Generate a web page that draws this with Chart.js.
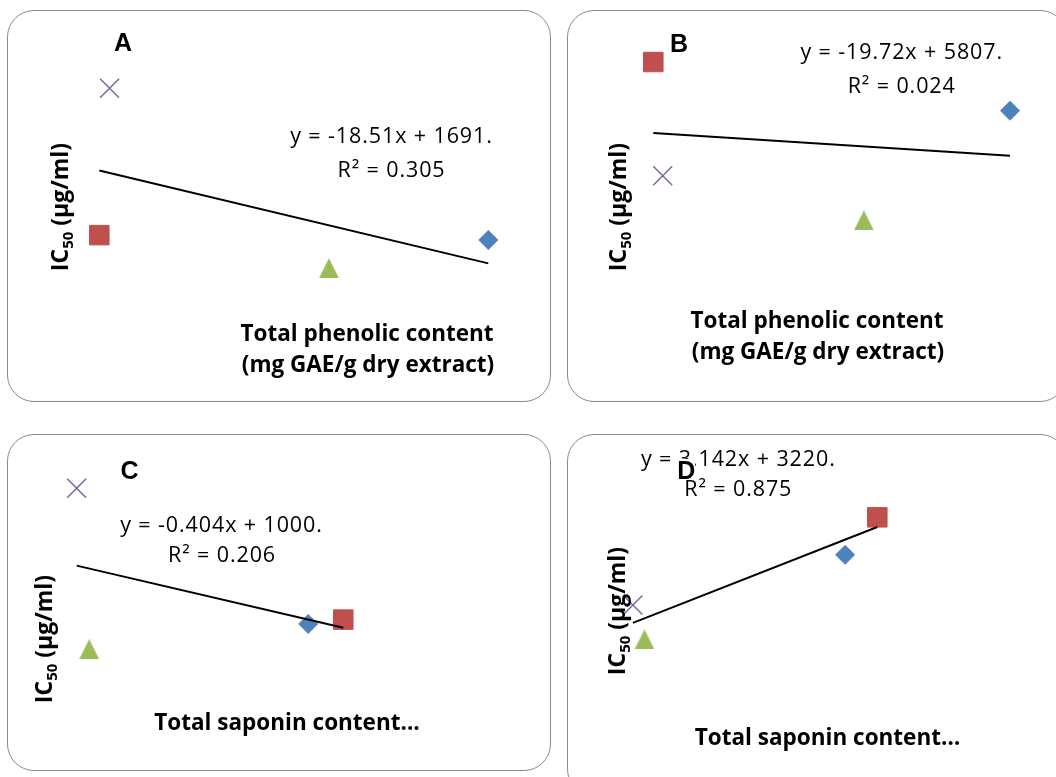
<!DOCTYPE html>
<html>
<head>
<meta charset="utf-8">
<script src="https://cdn.jsdelivr.net/npm/chart.js@4/dist/chart.umd.min.js"></script>
<style>
  html, body { margin:0; padding:0; background:#ffffff; width:1056px; height:777px; overflow:hidden; }
  .panel { position:absolute; box-sizing:border-box; border:1.5px solid #8a8a8a; border-radius:27px; background:#ffffff; }
  canvas { position:absolute; left:0; top:0; }
</style>
</head>
<body>
<div class="panel" style="left:7px;top:10px;width:544px;height:392px"></div>
<div class="panel" style="left:567px;top:10px;width:500px;height:392px"></div>
<div class="panel" style="left:7px;top:434px;width:544px;height:337px"></div>
<div class="panel" style="left:567px;top:434px;width:500px;height:362px"></div>
<canvas id="chartA" width="1056" height="777"></canvas>
<canvas id="chartB" width="1056" height="777"></canvas>
<canvas id="chartC" width="1056" height="777"></canvas>
<canvas id="chartD" width="1056" height="777"></canvas>
<script>
// ---------------- DATA ----------------
// four extracts, in Excel series order: diamond, square, triangle, cross
const seriesNames = ['Extract 1', 'Extract 2', 'Extract 3', 'Extract 4'];
const seriesColors = ['#4F81BD', '#C0504D', '#9BBB59', '#8064A2'];

// x values
const phenolicContent = [62.5, 39.8, 53.2, 40.4];      // mg GAE/g dry extract (panels A, B)
const saponinContent  = [836.4, 938.9, 197.2, 160.4];  // (panels C, D)

// y values: IC50 (µg/ml)
const ic50First  = [640, 662, 512, 1327];    // panels A and C
const ic50Second = [5460, 6418, 3300, 4181]; // panels B and D

// linear trend lines (end points)
const trendAx = [39.8, 62.5],   trendAy = [954.3, 534.1];
const trendBx = [39.8, 62.5],   trendBy = [5022.1, 4574.5];
const trendCx = [160.4, 938.9], trendCy = [935.2, 620.7];
const trendDx = [160.4, 938.9], trendDy = [3724.0, 6170.0];

// texts
const panelLetters = ['A', 'B', 'C', 'D'];
const equationLines = ['y = -18.51x + 1691.', 'y = -19.72x + 5807.', 'y = -0.404x + 1000.', 'y = 3.142x + 3220.'];
const r2Lines = ['R² = 0.305', 'R² = 0.024', 'R² = 0.206', 'R² = 0.875'];
const phenolicTitle = ['Total phenolic content', '(mg GAE/g dry extract)'];
const saponinTitle = ['Total saponin content…'];
const yTitleParts = ['IC', '50', ' (µg/ml)'];

// ---------------- helpers ----------------
function triangleMarker(color, w, h) {
  const c = document.createElement('canvas');
  c.width = w; c.height = h;
  const g = c.getContext('2d');
  g.fillStyle = color;
  g.beginPath();
  g.moveTo(w / 2, 0);
  g.lineTo(w, h);
  g.lineTo(0, h);
  g.closePath();
  g.fill();
  return c;
}
const markerStyles = [
  { pointStyle: 'rectRot',  pointRadius: 9.5,  borderWidth: 1 },
  { pointStyle: 'rect',     pointRadius: 13.8, borderWidth: 1 },
  { pointStyle: triangleMarker(seriesColors[2], 20, 20), pointRadius: 10, borderWidth: 0 },
  { pointStyle: 'crossRot', pointRadius: 13.4, borderWidth: 1.5 }
];

const textPlugin = {
  id: 'panelText',
  afterDatasetsDraw(chart, args, opts) {
    const ctx = chart.ctx;
    (opts.items || []).forEach(it => {
      ctx.save();
      ctx.fillStyle = '#000';
      ctx.textBaseline = 'alphabetic';
      if (it.parts) {
        // rotated rich text (y-axis title with subscript)
        ctx.translate(it.x, it.y);
        ctx.rotate(-Math.PI / 2);
        let total = 0;
        const widths = it.parts.map(p => { ctx.font = p.font; const w = ctx.measureText(p.text).width; total += w; return w; });
        let cx = -total / 2;
        ctx.textAlign = 'left';
        it.parts.forEach((p, i) => {
          ctx.font = p.font;
          ctx.fillText(p.text, cx, p.dy || 0);
          cx += widths[i];
        });
      } else {
        ctx.font = it.font;
        ctx.textAlign = it.align || 'center';
        if ('letterSpacing' in ctx) ctx.letterSpacing = it.spacing || '0px';
        if (it.bg) {
          const m = ctx.measureText(it.text);
          ctx.fillStyle = it.bg;
          ctx.fillRect(it.x - m.actualBoundingBoxLeft - 1, it.y - m.actualBoundingBoxAscent - 2,
                       m.actualBoundingBoxLeft + m.actualBoundingBoxRight + 2,
                       m.actualBoundingBoxAscent + m.actualBoundingBoxDescent + 3);
          ctx.fillStyle = '#000';
        }
        ctx.fillText(it.text, it.x, it.y);
      }
      ctx.restore();
    });
  }
};

const EQ_FONT = '21.5px "Open Sans"';
const EQ_SPACING = '0.9px';
const TITLE_FONT = 'bold 22.5px "Open Sans"';
const LETTER_FONT = 'bold 25px "Liberation Sans", Arial';
function yTitle(x, y) {
  return {
    x: x, y: y,
    parts: [
      { text: yTitleParts[0], font: 'bold 23px "Open Sans"' },
      { text: yTitleParts[1], font: 'bold 15px "Open Sans"', dy: 5 },
      { text: yTitleParts[2], font: 'bold 23px "Open Sans"' }
    ]
  };
}

function makeChart(id, xs, ys, tx, ty, xr, yr, pad, items) {
  const datasets = [{
    label: 'Linear trend',
    data: tx.map((x, i) => ({ x: x, y: ty[i] })),
    showLine: true,
    borderColor: '#000000',
    borderWidth: 2,
    pointRadius: 0,
    fill: false,
    clip: false
  }];
  seriesNames.forEach((name, i) => {
    datasets.push({
      label: name,
      data: [{ x: xs[i], y: ys[i] }],
      backgroundColor: seriesColors[i],
      borderColor: seriesColors[i],
      pointStyle: markerStyles[i].pointStyle,
      pointRadius: markerStyles[i].pointRadius,
      pointBorderWidth: markerStyles[i].borderWidth,
      clip: false
    });
  });
  return new Chart(document.getElementById(id), {
    type: 'scatter',
    data: { datasets: datasets },
    options: {
      responsive: false,
      animation: false,
      devicePixelRatio: 1,
      layout: { padding: pad, autoPadding: false },
      scales: {
        x: { type: 'linear', min: xr[0], max: xr[1], display: false },
        y: { type: 'linear', min: yr[0], max: yr[1], display: false }
      },
      plugins: {
        legend: { display: false },
        title: { display: false },
        tooltip: { enabled: false },
        panelText: { items: items }
      }
    },
    plugins: [textPlugin]
  });
}

// Panel A
makeChart('chartA', phenolicContent, ic50First, trendAx, trendAy, [35, 65], [400, 1500],
  { left: 17.04, right: 524.85, top: 50.0, bottom: 484.0 },
  [
    { text: panelLetters[0], x: 123, y: 51, font: LETTER_FONT },
    { text: equationLines[0], x: 391.5, y: 143.3, font: EQ_FONT, spacing: EQ_SPACING },
    { text: r2Lines[0], x: 391.5, y: 176.5, font: EQ_FONT, spacing: EQ_SPACING },
    { text: phenolicTitle[0], x: 367, y: 341, font: TITLE_FONT },
    { text: phenolicTitle[1], x: 368, y: 372, font: TITLE_FONT },
    yTitle(68, 207)
  ]);

// Panel B
makeChart('chartB', phenolicContent, ic50Second, trendBx, trendBy, [35, 65], [3000, 7000],
  { left: 577.87, right: 6.7, top: 32.43, bottom: 541.26 },
  [
    { text: panelLetters[1], x: 679, y: 51.5, font: LETTER_FONT },
    { text: equationLines[1], x: 901.7, y: 59.3, font: EQ_FONT, spacing: EQ_SPACING },
    { text: r2Lines[1], x: 901.7, y: 92.7, font: EQ_FONT, spacing: EQ_SPACING },
    { text: phenolicTitle[0], x: 817, y: 328, font: TITLE_FONT },
    { text: phenolicTitle[1], x: 818, y: 359, font: TITLE_FONT },
    yTitle(626, 207)
  ]);

// Panel C
makeChart('chartC', saponinContent, ic50First, trendCx, trendCy, [100, 1000], [400, 1500],
  { left: 55.95, right: 691.77, top: 454.0, bottom: 105.62 },
  [
    { text: panelLetters[2], x: 129.5, y: 478.5, font: LETTER_FONT },
    { text: equationLines[2], x: 221.5, y: 531.7, font: EQ_FONT, spacing: EQ_SPACING },
    { text: r2Lines[2], x: 222, y: 561.7, font: EQ_FONT, spacing: EQ_SPACING },
    { text: saponinTitle[0], x: 287, y: 730, font: TITLE_FONT },
    yTitle(52, 639)
  ]);

// Panel D
makeChart('chartD', saponinContent, ic50Second, trendDx, trendDy, [100, 1000], [3000, 7000],
  { left: 613.96, right: 159.52, top: 494.5, bottom: 125.75 },
  [
    { text: equationLines[3], x: 738.3, y: 466, font: EQ_FONT, spacing: EQ_SPACING },
    { text: r2Lines[3], x: 738.3, y: 496, font: EQ_FONT, spacing: EQ_SPACING },
    { text: panelLetters[3], x: 686.3, y: 479, font: LETTER_FONT, bg: '#ffffff' },
    { text: saponinTitle[0], x: 827.5, y: 745, font: TITLE_FONT },
    yTitle(625, 611)
  ]);
</script>
</body>
</html>
